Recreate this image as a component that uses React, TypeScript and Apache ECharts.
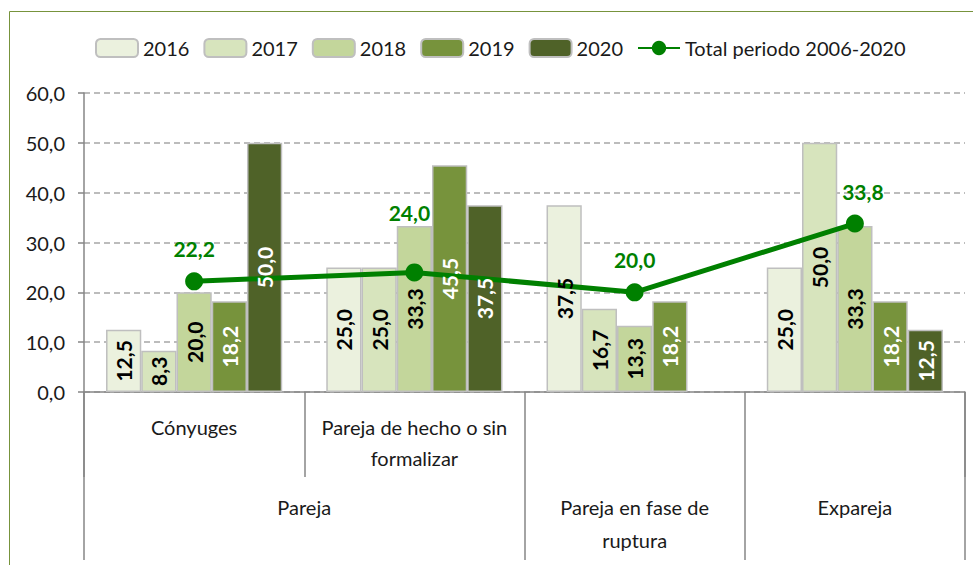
import React, { useEffect, useRef } from "react";
import * as echarts from "echarts";

const categories = ["Cónyuges", "Pareja de hecho o sin formalizar", "Pareja en fase de ruptura", "Expareja"];
const levelOneLabels = ["Cónyuges", "Pareja de hecho o sin\nformalizar", "", ""];
const groupLabels = ["Pareja", "Pareja en fase de\nruptura", "Expareja"];
const groupStarts = [0, 2, 3];
const groupEnds = [2, 3, 4];
const levelOneDividers = [0, 1];

const years = ["2016", "2017", "2018", "2019", "2020"];
const v2016 = [12.5, 25.0, 37.5, 25.0];
const v2017 = [8.3, 25.0, 16.7, 50.0];
const v2018 = [20.0, 33.3, 13.3, 33.3];
const v2019 = [18.2, 45.5, 18.2, 18.2];
const v2020 = [50.0, 37.5, null, 12.5];
const totalName = "Total periodo 2006-2020";
const total = [22.2, 24.0, 20.0, 33.8];

const yMin = 0;
const yMax = 60;
const yStep = 10;

const barColors = ["#ebf1de", "#d7e4bd", "#c3d69b", "#77933c", "#4f6228"];
const labelColors = ["#000", "#000", "#000", "#fff", "#fff"];
const FONT = "Lato";

const fmt = (v: number) => v.toFixed(1).replace(".", ",");

export default function App() {
  const ref = useRef<HTMLDivElement>(null);
  useEffect(() => {
    if (!ref.current) return;
    const chart = echarts.init(ref.current, null, { renderer: "svg" });
    const allBars = [v2016, v2017, v2018, v2019, v2020];
    const barSeries = allBars.map((vals, i) => ({
      name: years[i],
      type: "bar",
      xAxisIndex: 0,
      yAxisIndex: 0,
      barGap: "0%",
      barCategoryGap: "20%",
      data: vals,
      itemStyle: { color: barColors[i], borderColor: "#bfbfbf", borderWidth: 1.5 },
      label: { show: false },
      z: 2,
    }));
    // transparent overlay bars on a hidden twin axis, only to carry the value labels above the line
    const labelSeries = allBars.map((vals, i) => ({
      name: "label " + years[i],
      type: "bar",
      xAxisIndex: 3,
      yAxisIndex: 0,
      barGap: "0%",
      barCategoryGap: "20%",
      data: vals,
      silent: true,
      itemStyle: { color: "rgba(0,0,0,0)", borderWidth: 0 },
      label: {
        show: true,
        position: "inside",
        rotate: 90,
        fontFamily: FONT,
        fontWeight: "bold",
        fontSize: 21,
        color: labelColors[i],
        formatter: (p: any) => fmt(p.value),
      },
      z: 10,
    }));
    const lineData = total.map((v, i) => {
      const item: any = { value: v };
      if (i === 1) item.label = { offset: [-5, -27] };
      if (i === 3) item.label = { offset: [8, 0] };
      return item;
    });
    const groupMid = groupStarts.map((s, i) => (s + groupEnds[i]) / 2);
    const option: any = {
      animation: false,
      backgroundColor: "#fff",
      textStyle: { fontFamily: FONT },
      graphic: [
        {
          type: "rect",
          silent: true,
          shape: { x: 9.5, y: 11.5, width: 1000, height: 600 },
          style: { fill: "none", stroke: "#77933c", lineWidth: 1 },
        },
      ],
      legend: {
        left: 90,
        top: 33,
        itemWidth: 42,
        itemHeight: 18,
        itemGap: 14,
        textStyle: { fontFamily: FONT, fontSize: 20, color: "#1a1a1a" },
        data: [...years, totalName],
      },
      grid: { left: 84, right: 8, top: 93, bottom: 173, containLabel: false },
      xAxis: [
        {
          type: "category",
          data: categories,
          position: "bottom",
          axisLine: { show: true, lineStyle: { color: "#868686", width: 1.5 } },
          axisTick: {
            show: true,
            length: 85,
            interval: (i: number) => levelOneDividers.includes(i),
            lineStyle: { color: "#868686", width: 1.5 },
          },
          axisLabel: {
            interval: 0,
            margin: 19,
            fontFamily: FONT,
            fontSize: 20,
            lineHeight: 31,
            color: "#1a1a1a",
            formatter: (_v: string, i: number) => levelOneLabels[i],
          },
        },
        {
          type: "category",
          data: categories,
          position: "bottom",
          axisLine: { show: false },
          axisTick: {
            show: true,
            length: 168,
            interval: (i: number) => groupStarts.includes(i),
            lineStyle: { color: "#868686", width: 1.5 },
          },
          axisLabel: { show: false },
        },
        {
          type: "value",
          min: 0,
          max: categories.length,
          interval: 0.5,
          position: "bottom",
          axisLine: { show: false },
          axisTick: { show: false },
          splitLine: { show: false },
          axisLabel: {
            margin: 98,
            fontFamily: FONT,
            fontSize: 20,
            lineHeight: 33,
            color: "#1a1a1a",
            showMinLabel: true,
            showMaxLabel: true,
            formatter: (v: number) => {
              const k = groupMid.findIndex((m) => Math.abs(m - v) < 1e-6);
              return k >= 0 ? groupLabels[k] : "";
            },
          },
        },
        {
          type: "category",
          data: categories,
          show: false,
        },
      ],
      yAxis: {
        type: "value",
        min: yMin,
        max: yMax,
        interval: yStep,
        axisLine: { show: true, lineStyle: { color: "#868686", width: 1.5 } },
        axisTick: { show: true, length: 6, lineStyle: { color: "#868686", width: 1.5 } },
        axisLabel: {
          margin: 19,
          fontFamily: FONT,
          fontSize: 20,
          color: "#1a1a1a",
          formatter: (v: number) => fmt(v),
        },
        splitLine: { show: true, lineStyle: { color: "#a6a6a6", width: 1.5, type: [6, 4] } },
      },
      series: [
        ...barSeries,
        {
          name: totalName,
          type: "line",
          xAxisIndex: 0,
          yAxisIndex: 0,
          data: lineData,
          symbol: "circle",
          symbolSize: 18,
          lineStyle: { color: "#008000", width: 5 },
          itemStyle: { color: "#008000" },
          label: {
            show: true,
            position: "top",
            distance: 13,
            fontFamily: FONT,
            fontWeight: "bold",
            fontSize: 21,
            color: "#008000",
            formatter: (p: any) => fmt(p.value),
          },
          z: 5,
        },
        ...labelSeries,
      ],
    };
    chart.setOption(option);
    return () => chart.dispose();
  }, []);
  return (
    <div
      ref={ref}
      style={{ position: "fixed", left: 0, top: 0, width: 973, height: 565, background: "#fff" }}
    />
  );
}
